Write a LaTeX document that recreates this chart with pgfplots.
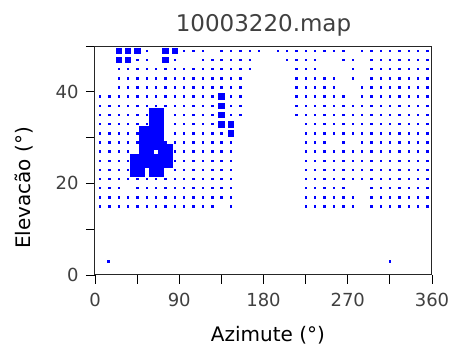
\documentclass[border=0pt]{standalone}
\usepackage{fontspec}
\setmainfont{DejaVu Sans}
\newfontfamily\dejavu{DejaVu Sans}
\usepackage{pgfplots}
\pgfplotsset{compat=1.18}
\begin{document}
\begin{tikzpicture}
\path[use as bounding box] (-95pt,-73pt) rectangle (358pt,275pt);
\begin{axis}[
  scale only axis, width=337pt, height=229pt,
  xmin=0, xmax=360, ymin=0, ymax=50,
  xtick={0,90,180,270,360}, xticklabels={0,90,180,270,360},
  minor xtick={45,135,225,315},
  ytick={0,10,20,30,40,50}, yticklabels={0,,20,,40,},
  xtick pos=bottom, ytick pos=left,
  tick align=outside, major tick length=9pt, minor tick length=9pt,
  tick style={line width=0.8pt, black},
  axis line style={line width=1pt, black!85},
  ticklabel style={font=\dejavu\fontsize{18}{18}\selectfont, text=black!75},
  xticklabel style={anchor=base, yshift=-22pt},
  yticklabel style={anchor=east, xshift=-4pt},
  title={10003220.map},
  title style={font=\dejavu\fontsize{23}{23}\selectfont, text=black!75, at={(axis description cs:0.5,1)}, anchor=base, yshift=9pt},
  xlabel={Azimute (°)},
  ylabel={Elevacão (°)},
  xlabel style={font=\dejavu\fontsize{20}{20}\selectfont, at={(axis description cs:0.513,0)}, anchor=base, yshift=-66pt},
  ylabel style={font=\dejavu\fontsize{20}{20}\selectfont, at={(axis description cs:0,0.38)}, anchor=base, yshift=64pt},
  clip=false,
]
% small dots
\addplot[blue, only marks, mark=square*, mark size=0.7pt, mark options={draw=none, fill=blue}] coordinates {
(55,49)(95,49)(105,49)(115,49)(135,49)(145,49)(155,49)(165,49)(175,49)(195,49)(205,49)(215,49)(225,49)(235,49)(245,49)(255,49)(265,49)(285,49)(295,49)(305,49)(315,49)(325,49)(335,49)(345,49)(355,49)
(45,47)(55,47)(85,47)(115,47)(125,47)(135,47)(145,47)(155,47)(165,47)(205,47)(215,47)(225,47)(235,47)(265,47)(275,47)(295,47)(305,47)(315,47)(325,47)(335,47)(345,47)(355,47)
(25,45)(35,45)(45,45)(55,45)(65,45)(75,45)(85,45)(95,45)(105,45)(115,45)(125,45)(135,45)(145,45)(155,45)(165,45)(215,45)(225,45)(235,45)(275,45)(295,45)(305,45)(315,45)(325,45)(335,45)(345,45)(355,45)
(25,43)(35,43)(45,43)(55,43)(65,43)(75,43)(85,43)(95,43)(105,43)(115,43)(125,43)(135,43)(145,43)(155,43)(215,43)(225,43)(235,43)(245,43)(255,43)(275,43)(295,43)(305,43)(315,43)(325,43)(335,43)(345,43)(355,43)
(25,41)(35,41)(45,41)(55,41)(65,41)(75,41)(85,41)(95,41)(105,41)(115,41)(125,41)(135,41)(145,41)(155,41)(215,41)(225,41)(235,41)(245,41)(255,41)(285,41)(295,41)(305,41)(315,41)(325,41)(335,41)(345,41)(355,41)
(5,39)(15,39)(25,39)(35,39)(45,39)(55,39)(65,39)(75,39)(85,39)(95,39)(105,39)(115,39)(125,39)(145,39)(155,39)(215,39)(225,39)(235,39)(245,39)(255,39)(265,39)(285,39)(295,39)(305,39)(315,39)(325,39)(335,39)(345,39)(355,39)
(5,37)(15,37)(25,37)(35,37)(45,37)(55,37)(65,37)(75,37)(85,37)(95,37)(105,37)(115,37)(125,37)(145,37)(155,37)(215,37)(225,37)(235,37)(245,37)(255,37)(265,37)(275,37)(285,37)(295,37)(305,37)(315,37)(325,37)(335,37)(345,37)(355,37)
(5,35)(15,35)(25,35)(35,35)(45,35)(55,35)(85,35)(95,35)(105,35)(115,35)(125,35)(145,35)(155,35)(215,35)(225,35)(235,35)(245,35)(255,35)(265,35)(275,35)(285,35)(295,35)(305,35)(315,35)(325,35)(335,35)(345,35)(355,35)
(5,33)(15,33)(25,33)(35,33)(45,33)(55,33)(85,33)(95,33)(105,33)(115,33)(125,33)(225,33)(235,33)(245,33)(255,33)(265,33)(275,33)(285,33)(295,33)(305,33)(315,33)(325,33)(335,33)(345,33)(355,33)
(5,31)(15,31)(25,31)(35,31)(45,31)(85,31)(95,31)(105,31)(115,31)(125,31)(135,31)(225,31)(235,31)(245,31)(255,31)(265,31)(275,31)(285,31)(295,31)(305,31)(315,31)(325,31)(335,31)(345,31)(355,31)
(5,29)(15,29)(25,29)(35,29)(45,29)(75,29)(85,29)(95,29)(105,29)(115,29)(125,29)(135,29)(145,29)(225,29)(235,29)(245,29)(265,29)(285,29)(295,29)(305,29)(315,29)(325,29)(335,29)(345,29)(355,29)
(5,27)(15,27)(25,27)(35,27)(85,27)(95,27)(105,27)(115,27)(125,27)(135,27)(145,27)(225,27)(235,27)(245,27)(255,27)(265,27)(275,27)(285,27)(295,27)(305,27)(315,27)(325,27)(335,27)(345,27)(355,27)
(5,25)(15,25)(25,25)(35,25)(85,25)(95,25)(105,25)(115,25)(125,25)(135,25)(145,25)(225,25)(235,25)(245,25)(255,25)(265,25)(275,25)(285,25)(295,25)(305,25)(315,25)(325,25)(335,25)(345,25)(355,25)
(5,23)(15,23)(25,23)(35,23)(85,23)(95,23)(105,23)(115,23)(125,23)(135,23)(145,23)(225,23)(235,23)(245,23)(255,23)(265,23)(275,23)(285,23)(295,23)(305,23)(315,23)(325,23)(335,23)(345,23)(355,23)
(5,21)(15,21)(25,21)(35,21)(45,21)(55,21)(65,21)(75,21)(85,21)(95,21)(105,21)(115,21)(125,21)(135,21)(145,21)(225,21)(235,21)(245,21)(255,21)(265,21)(275,21)(285,21)(295,21)(305,21)(315,21)(325,21)(335,21)(345,21)(355,21)
(5,19)(15,19)(25,19)(45,19)(55,19)(65,19)(75,19)(85,19)(95,19)(105,19)(115,19)(125,19)(135,19)(145,19)(225,19)(235,19)(245,19)(255,19)(265,19)(295,19)(305,19)(315,19)(325,19)(335,19)(345,19)(355,19)
(5,17)(15,17)(25,17)(35,17)(45,17)(55,17)(65,17)(75,17)(85,17)(95,17)(105,17)(115,17)(125,17)(135,17)(145,17)(225,17)(235,17)(245,17)(255,17)(265,17)(275,17)(295,17)(305,17)(315,17)(325,17)(335,17)(345,17)(355,17)
(5,15)(15,15)(25,15)(35,15)(45,15)(55,15)(65,15)(75,15)(85,15)(95,15)(105,15)(115,15)(125,15)(145,15)(225,15)(235,15)(245,15)(255,15)(265,15)(275,15)(295,15)(305,15)(315,15)(325,15)(335,15)(345,15)(355,15)
(14,3)(315,3)
};
% medium squares
\addplot[blue, only marks, mark=square*, mark size=2.8pt, mark options={draw=blue, fill=blue, line width=0.2pt}] coordinates {
(25,49)(35,49)(45,49)(75,49)(85,49)(25,47)(35,47)(75,47)
(135,39)(135,37)(135,35)(135,33)(145,33)(145,31)
};
% large squares
\addplot[blue, only marks, mark=square*, mark size=6.9pt, mark options={draw=blue, fill=blue, line width=0.2pt}] coordinates {
(65,35)(65,33)(65,31)(55,31)(65,29)(55,29)(55,27)(75,27)
(45,25)(55,25)(65,25)(75,25)(45,23)(65,23)
};
\end{axis}
\end{tikzpicture}
\end{document}
